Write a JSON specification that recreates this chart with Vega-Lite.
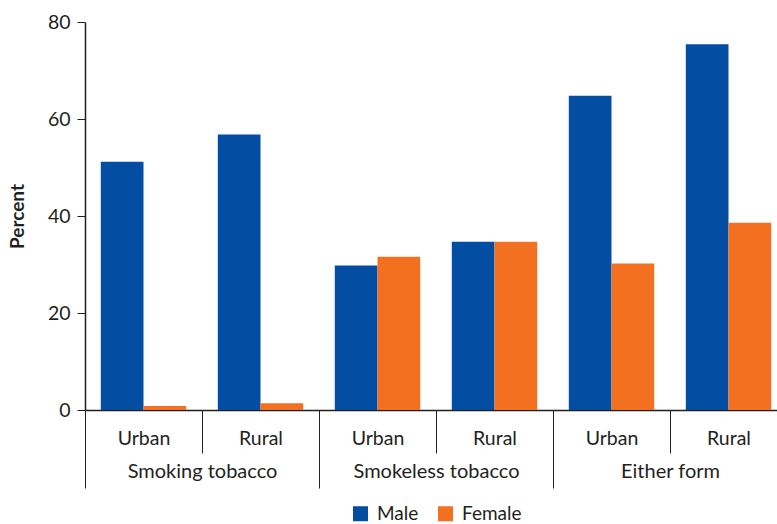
{
  "$schema": "https://vega.github.io/schema/vega-lite/v6.json",
  "autosize": {"type": "none"},
  "width": 702,
  "height": 388,
  "padding": {"left": 85, "top": 22, "right": -10, "bottom": 114},
  "config": {
    "font": "Lato",
    "view": {"stroke": null},
    "axis": {"labelFont": "Lato", "titleFont": "Lato", "labelColor": "#231F20", "titleColor": "#231F20", "domainColor": "#231F20", "tickColor": "#231F20"},
    "legend": {"labelFont": "Lato", "labelColor": "#231F20", "layout": {"bottom": {"anchor": "middle"}}}
  },
  "data": {
    "values": [
      {"group": "Smoking tobacco", "area": "Urban", "cat": "Smoking tobacco|Urban", "sex": "Male", "value": 51.2},
      {"group": "Smoking tobacco", "area": "Urban", "cat": "Smoking tobacco|Urban", "sex": "Female", "value": 0.8},
      {"group": "Smoking tobacco", "area": "Rural", "cat": "Smoking tobacco|Rural", "sex": "Male", "value": 56.8},
      {"group": "Smoking tobacco", "area": "Rural", "cat": "Smoking tobacco|Rural", "sex": "Female", "value": 1.4},
      {"group": "Smokeless tobacco", "area": "Urban", "cat": "Smokeless tobacco|Urban", "sex": "Male", "value": 29.8},
      {"group": "Smokeless tobacco", "area": "Urban", "cat": "Smokeless tobacco|Urban", "sex": "Female", "value": 31.6},
      {"group": "Smokeless tobacco", "area": "Rural", "cat": "Smokeless tobacco|Rural", "sex": "Male", "value": 34.7},
      {"group": "Smokeless tobacco", "area": "Rural", "cat": "Smokeless tobacco|Rural", "sex": "Female", "value": 34.7},
      {"group": "Either form", "area": "Urban", "cat": "Either form|Urban", "sex": "Male", "value": 64.8},
      {"group": "Either form", "area": "Urban", "cat": "Either form|Urban", "sex": "Female", "value": 30.2},
      {"group": "Either form", "area": "Rural", "cat": "Either form|Rural", "sex": "Male", "value": 75.4},
      {"group": "Either form", "area": "Rural", "cat": "Either form|Rural", "sex": "Female", "value": 38.6}
    ]
  },
  "layer": [
    {
      "mark": {"type": "bar"},
      "encoding": {
        "x": {
          "field": "cat", "type": "nominal",
          "sort": ["Smoking tobacco|Urban", "Smoking tobacco|Rural", "Smokeless tobacco|Urban", "Smokeless tobacco|Rural", "Either form|Urban", "Either form|Rural"],
          "scale": {"paddingInner": 0, "paddingOuter": 0},
          "axis": {"title": null, "orient": "bottom", "tickBand": "extent", "tickSize": 43, "labelPadding": -23.5, "labelExpr": "split(datum.value, '|')[1]", "labelAngle": 0, "labelFontSize": 19.5, "domainWidth": 1.5}
        },
        "xOffset": {"field": "sex", "type": "nominal", "sort": ["Male", "Female"], "scale": {"paddingInner": 0, "paddingOuter": 0.37}},
        "y": {
          "field": "value", "type": "quantitative",
          "scale": {"domain": [0, 80]},
          "axis": {"title": "Percent", "values": [0, 20, 40, 60, 80], "grid": false, "tickSize": 8, "labelPadding": 7, "labelFontSize": 19.5, "titleFontSize": 19, "titleFontWeight": "bold", "titlePadding": 20, "domainWidth": 1.5}
        },
        "color": {
          "field": "sex", "type": "nominal",
          "scale": {"domain": ["Male", "Female"], "range": ["#034EA2", "#F37021"]},
          "legend": {"title": null, "orient": "bottom", "direction": "horizontal", "symbolType": "square", "symbolSize": 225, "symbolStrokeWidth": 0, "labelFontSize": 19, "labelOffset": 7, "columnPadding": 17, "offset": 15}
        }
      }
    },
    {
      "mark": {"type": "bar", "opacity": 0},
      "encoding": {
        "x": {
          "field": "group", "type": "nominal",
          "sort": ["Smoking tobacco", "Smokeless tobacco", "Either form"],
          "scale": {"paddingInner": 0, "paddingOuter": 0},
          "axis": {"title": null, "orient": "bottom", "tickBand": "extent", "tickSize": 78, "labelPadding": -26.5, "labelAngle": 0, "labelFontSize": 20, "domain": false}
        },
        "y": {"field": "value", "type": "quantitative"}
      }
    }
  ],
  "resolve": {"scale": {"x": "independent"}, "axis": {"x": "independent"}}
}
